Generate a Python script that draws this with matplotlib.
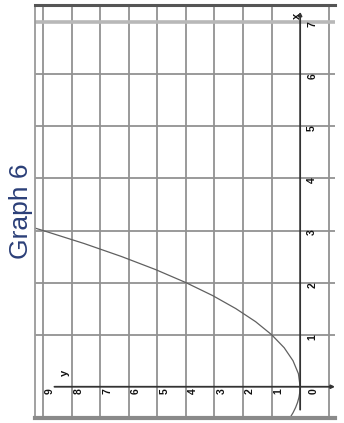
import matplotlib
matplotlib.use("Agg")
import matplotlib.pyplot as plt

plt.rcParams['font.family'] = ['Liberation Sans', 'DejaVu Sans']

# Curve samples (x, y) of the plotted parabola
curve_x = [-0.6, -0.5, -0.4, -0.3, -0.2, -0.1, 0.0, 0.25, 0.5, 0.75, 1.0,
           1.25, 1.5, 1.75, 2.0, 2.25, 2.5, 2.75, 3.0, 3.05]
curve_y = [0.36, 0.25, 0.16, 0.09, 0.04, 0.01, 0.0, 0.06, 0.25, 0.56, 1.0,
           1.56, 2.25, 3.06, 4.0, 5.06, 6.25, 7.56, 9.0, 9.3]

# Tick labels along each axis
x_ticks = [1, 2, 3, 4, 5, 6, 7]
y_ticks = [1, 2, 3, 4, 5, 6, 7, 8, 9]
y_grid = [-1, 0, 1, 2, 3, 4, 5, 6, 7, 8, 9]
x_grid = [1, 2, 3, 4, 5, 6]
title = "Graph 6"

W, H = 344, 423
fig = plt.figure(figsize=(W / 100, H / 100), dpi=100)
fig.patch.set_facecolor('white')

# The graph is drawn turned a quarter turn: x runs up the page, y runs to the left
ax = fig.add_axes([35 / W, 1 - 418 / H, 300 / W, 413 / H])
ax.set_xlim(9.28, -1.22)   # horizontal = y values
ax.set_ylim(-0.6, 7.33)    # vertical = x values
ax.set_xticks([])
ax.set_yticks([])
ax.spines['right'].set_visible(False)
ax.spines['top'].set_color('#555555')
ax.spines['top'].set_linewidth(2.2)
ax.spines['bottom'].set_color('#8a8a8a')
ax.spines['bottom'].set_linewidth(3.0)
ax.spines['left'].set_color('#9a9a9a')
ax.spines['left'].set_linewidth(1.3)

grid_col = '#929292'
for v in y_grid:
    if v == 0:
        continue
    ax.axvline(v, color=grid_col, lw=1.3, zorder=1)
for v in x_grid:
    ax.axhline(v, color=grid_col, lw=1.3, zorder=1)
ax.axhline(7, color='#b8b8b8', lw=2.6, zorder=1)

# Axes with arrowheads
ax.annotate('', xy=(-1.22, 0), xytext=(8.6, 0),
            arrowprops=dict(arrowstyle='-|>', color='#333333', lw=1.3,
                            mutation_scale=5, shrinkA=0, shrinkB=0), zorder=3)
ax.annotate('', xy=(0, 7.2), xytext=(0, -0.44),
            arrowprops=dict(arrowstyle='-|>', color='#333333', lw=1.3,
                            mutation_scale=5, shrinkA=0, shrinkB=0), zorder=3)

# Curve
ax.plot(curve_y, curve_x, color='#606060', lw=0.9, zorder=2, clip_on=True)

lab = dict(rotation=90, fontsize=7.5, fontweight='bold', color='#111111',
           ha='center', va='center', zorder=4)
for k in y_ticks:
    ax.text(k - 0.245, -0.08, str(k), **lab)
ax.text(-0.455, -0.08, '0', **lab)
for k in x_ticks:
    ax.text(-0.42, k - 0.04, str(k), **lab)
ax.text(0.12, 7.13, 'x', **dict(lab, fontsize=8))
ax.text(8.23, 0.27, 'y', **dict(lab, fontsize=8))

fig.text(21 / W, 1 - 211 / H, title, rotation=90, fontsize=19,
         color='#2b3f78', ha='center', va='center')

fig.savefig('out.png', dpi=100)
